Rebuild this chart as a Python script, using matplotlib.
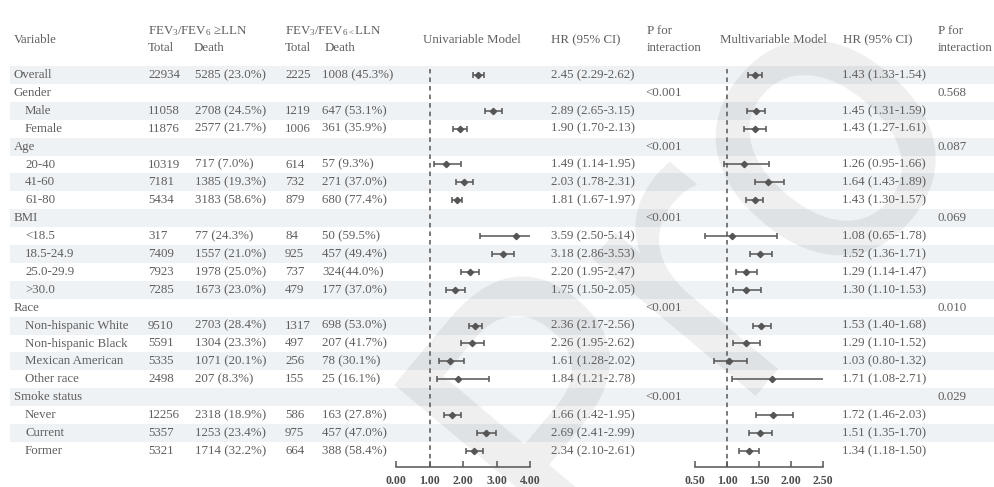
import numpy as np
import matplotlib
matplotlib.use("Agg")
import matplotlib.pyplot as plt

plt.rcParams['font.family'] = ['Liberation Serif', 'DejaVu Serif']
plt.rcParams['mathtext.fontset'] = 'custom'
plt.rcParams['mathtext.rm'] = 'Liberation Serif'
plt.rcParams['mathtext.it'] = 'Liberation Serif:italic'

nan = np.nan

# subgroup table
labels = ["Overall", "Gender", "Male", "Female", "Age", "20-40", "41-60", "61-80",
          "BMI", "<18.5", "18.5-24.9", "25.0-29.9", ">30.0", "Race",
          "Non-hispanic White", "Non-hispanic Black", "Mexican American", "Other race",
          "Smoke status", "Never", "Current", "Former"]
groups = ["Overall", "Gender", "Age", "BMI", "Race", "Smoke status"]

total_norm = ["22934", "", "11058", "11876", "", "10319", "7181", "5434", "", "317", "7409",
              "7923", "7285", "", "9510", "5591", "5335", "2498", "", "12256", "5357", "5321"]
death_norm = ["5285 (23.0%)", "", "2708 (24.5%)", "2577 (21.7%)", "", "717 (7.0%)",
              "1385 (19.3%)", "3183 (58.6%)", "", "77 (24.3%)", "1557 (21.0%)", "1978 (25.0%)",
              "1673 (23.0%)", "", "2703 (28.4%)", "1304 (23.3%)", "1071 (20.1%)", "207 (8.3%)",
              "", "2318 (18.9%)", "1253 (23.4%)", "1714 (32.2%)"]
total_low = ["2225", "", "1219", "1006", "", "614", "732", "879", "", "84", "925",
             "737", "479", "", "1317", "497", "256", "155", "", "586", "975", "664"]
death_low = ["1008 (45.3%)", "", "647 (53.1%)", "361 (35.9%)", "", "57 (9.3%)",
             "271 (37.0%)", "680 (77.4%)", "", "50 (59.5%)", "457 (49.4%)", "324(44.0%)",
             "177 (37.0%)", "", "698 (53.0%)", "207 (41.7%)", "78 (30.1%)", "25 (16.1%)",
             "", "163 (27.8%)", "457 (47.0%)", "388 (58.4%)"]

uni_hr = np.array([2.45, nan, 2.89, 1.90, nan, 1.49, 2.03, 1.81, nan, 3.59, 3.18, 2.20, 1.75,
                   nan, 2.36, 2.26, 1.61, 1.84, nan, 1.66, 2.69, 2.34])
uni_lo = np.array([2.29, nan, 2.65, 1.70, nan, 1.14, 1.78, 1.67, nan, 2.50, 2.86, 1.95, 1.50,
                   nan, 2.17, 1.95, 1.28, 1.21, nan, 1.42, 2.41, 2.10])
uni_hi = np.array([2.62, nan, 3.15, 2.13, nan, 1.95, 2.31, 1.97, nan, 5.14, 3.53, 2.47, 2.05,
                   nan, 2.56, 2.62, 2.02, 2.78, nan, 1.95, 2.99, 2.61])
uni_p = ["", "<0.001", "", "", "<0.001", "", "", "", "<0.001", "", "", "", "", "<0.001",
         "", "", "", "", "<0.001", "", "", ""]

multi_hr = np.array([1.43, nan, 1.45, 1.43, nan, 1.26, 1.64, 1.43, nan, 1.08, 1.52, 1.29, 1.30,
                     nan, 1.53, 1.29, 1.03, 1.71, nan, 1.72, 1.51, 1.34])
multi_lo = np.array([1.33, nan, 1.31, 1.27, nan, 0.95, 1.43, 1.30, nan, 0.65, 1.36, 1.14, 1.10,
                     nan, 1.40, 1.10, 0.80, 1.08, nan, 1.46, 1.35, 1.18])
multi_hi = np.array([1.54, nan, 1.59, 1.61, nan, 1.66, 1.89, 1.57, nan, 1.78, 1.71, 1.47, 1.53,
                     nan, 1.68, 1.52, 1.32, 2.71, nan, 2.03, 1.70, 1.50])
multi_p = ["", "0.568", "", "", "0.087", "", "", "", "0.069", "", "", "", "", "0.010",
           "", "", "", "", "0.029", "", "", ""]

uni_ticks = [0.0, 1.0, 2.0, 3.0, 4.0]
multi_ticks = [0.5, 1.0, 1.5, 2.0, 2.5]

W, H = 994, 487
ROW0, STEP = 75, 17.9
TOP_Y, AXIS_Y = 66, 467
TXT = "#5e5e5e"
MARK = "#555555"
BAND = "#eef2f5"
FS = 9.3

fig = plt.figure(figsize=(W / 100, H / 100), dpi=100)
bg = fig.add_axes([0, 0, 1, 1])
bg.set_xlim(0, W)
bg.set_ylim(H, 0)
bg.axis("off")


def put(x, y, s, **kw):
    bg.text(x, y, s, va="center", ha="left", fontsize=FS, color=TXT, zorder=3, **kw)


# header
put(14, 40, "Variable")
put(148, 31, r"FEV$_\mathrm{3}$/FEV$_\mathrm{6}$ ≥LLN")
put(285, 31, r"FEV$_\mathrm{3}$/FEV$_\mathrm{6<}$LLN")
for x0, x1 in [(148, 194), (285, 325)]:
    put(x0, 48, "Total")
    put(x1, 48, "Death")
bg.text(472, 40, "Univariable Model", ha="center", va="center", fontsize=FS, color=TXT)
bg.text(773, 40, "Multivariable Model", ha="center", va="center", fontsize=FS, color=TXT)
for x in (551, 843):
    put(x, 40, "HR (95% CI)")
for x in (647, 938):
    put(x, 31, "P for")
    put(x, 48, "interaction")

# body rows
for i, lab in enumerate(labels):
    y = ROW0 + STEP * i
    if i % 2 == 0:
        bg.axhspan(y - STEP / 2, y + STEP / 2, xmin=10 / W, xmax=1, color=BAND, lw=0, zorder=0)
    put(14 if lab in groups else 25, y, lab)
    put(148, y, total_norm[i])
    put(195, y, death_norm[i])
    put(285, y, total_low[i])
    put(322, y, death_low[i])
    if not np.isnan(uni_hr[i]):
        put(551, y, f"{uni_hr[i]:.2f} ({uni_lo[i]:.2f}-{uni_hi[i]:.2f})")
        put(842, y, f"{multi_hr[i]:.2f} ({multi_lo[i]:.2f}-{multi_hi[i]:.2f})")
    put(645, y, uni_p[i])
    put(937, y, multi_p[i])

# faint watermark behind the table
bg.text(690, 262, "Pro", rotation=50, fontsize=280, color="black", alpha=0.065,
        ha="center", va="center", family="DejaVu Sans", zorder=1)


def forest(x0, x1, lims, ticks, hr, lo, hi):
    a = fig.add_axes([x0 / W, (H - AXIS_Y) / H, (x1 - x0) / W, (AXIS_Y - TOP_Y) / H])
    a.patch.set_alpha(0)
    ybot = (AXIS_Y - ROW0) / STEP
    a.set_xlim(*lims)
    a.set_ylim(ybot, (TOP_Y - ROW0) / STEP)
    rows = np.arange(len(hr))
    ok = ~np.isnan(hr)
    a.errorbar(hr[ok], rows[ok], xerr=[hr[ok] - lo[ok], hi[ok] - hr[ok]], fmt="D",
               ms=3.2, color=MARK, ecolor=MARK, elinewidth=1.1, capsize=2.5, capthick=1.1)
    a.plot([1, 1], [ybot, -0.35], color=MARK, lw=1.1, ls=(0, (3, 2.6)))
    for s in ("left", "right", "top"):
        a.spines[s].set_visible(False)
    a.spines["bottom"].set_bounds(*lims)
    a.spines["bottom"].set_color(MARK)
    a.spines["bottom"].set_linewidth(1.1)
    a.set_yticks([])
    a.set_xticks(ticks)
    a.set_xticklabels([f"{t:.2f}" for t in ticks], fontsize=8.6, fontweight="bold", color="#4c4c4c")
    a.tick_params(axis="x", direction="in", length=4, width=1.1, color=MARK, pad=6)
    return a


forest(396, 530, (0, 4), uni_ticks, uni_hr, uni_lo, uni_hi)
forest(695, 823, (0.5, 2.5), multi_ticks, multi_hr, multi_lo, multi_hi)

fig.savefig("out.png", dpi=100)
